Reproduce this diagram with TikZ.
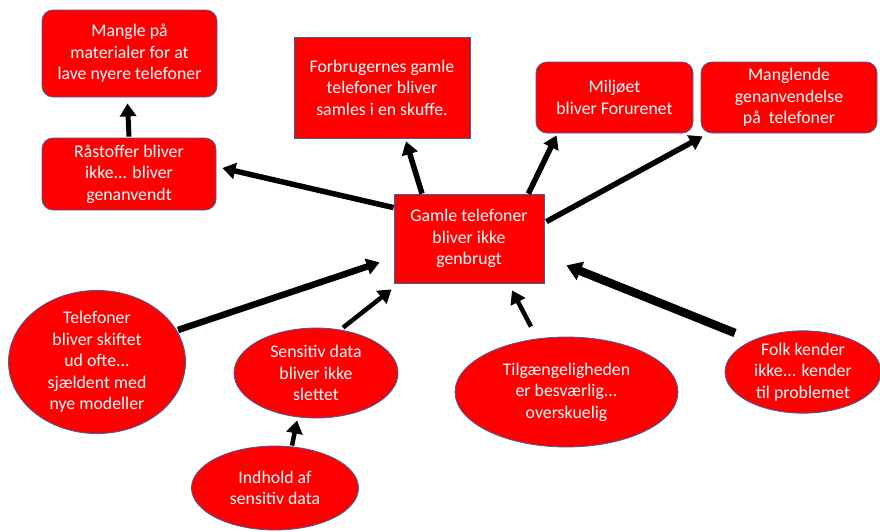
\documentclass[tikz,border=0pt]{standalone}
\usepackage{fontspec}
\setmainfont{Carlito}
\usetikzlibrary{shapes.geometric,arrows.meta}
\definecolor{boxred}{HTML}{FF0000}
\definecolor{edgeblue}{HTML}{41619C}
\tikzset{
  base/.style={fill=boxred,draw=edgeblue,line width=0.8pt,text=white,align=center,
    font=\fontsize{17.8}{21.5}\selectfont,inner sep=0pt},
  rbox/.style={base,rectangle,rounded corners=11pt},
  sbox/.style={base,rectangle},
  ebox/.style={base,ellipse},
  arr/.style={line width=5.5pt,-{Triangle[length=13pt,width=16pt]}},
}
\begin{document}
\begin{tikzpicture}[x=1pt,y=-1pt]
\useasboundingbox (0,0) rectangle (880,531);
\node[rbox,minimum width=175pt,minimum height=87pt] (mangle) at (129.5,53.5) {Mangle på\\materialer for at\\lave nyere telefoner};
\node[rbox,minimum width=174pt,minimum height=72pt] (raa) at (129,174) {Råstoffer bliver\\ikke... bliver\\genanvendt};
\node[sbox,minimum width=176pt,minimum height=101pt] (forb) at (382,87.5) {Forbrugernes gamle\\telefoner bliver\\samles i en skuffe.};
\node[rbox,minimum width=157pt,minimum height=71pt] (milj) at (614.5,97.5) {Miljøet\\bliver Forurenet};
\node[rbox,minimum width=176pt,minimum height=71pt] (mangl) at (789,97.5) {Manglende\\genanvendelse\\på\ \ telefoner};
\node[sbox,minimum width=150pt,minimum height=89pt] (gamle) at (469,238.5) {Gamle telefoner\\bliver ikke\\genbrugt};
\node[ebox,minimum width=177pt,minimum height=126pt] (tele) at (97,362) {Telefoner\\bliver skiftet\\ud ofte...\\sjældent med\\nye modeller};
\node[ebox,minimum width=164pt,minimum height=90pt] (sens) at (316,373) {Sensitiv data\\bliver ikke\\slettet};
\node[ebox,minimum width=167pt,minimum height=84pt] (ind) at (275,488) {Indhold af\\sensitiv data};
\node[ebox,minimum width=223pt,minimum height=110pt] (tilg) at (566.5,392) {Tilgængeligheden\\er besværlig...\\overskuelig};
\node[ebox,minimum width=156pt,minimum height=80pt] (folk) at (803,372) {Folk kender\\ikke... kender\\til problemet};

\draw[arr] ([yshift=-14pt]gamle.north west) -- ([xshift=6pt,yshift=6pt]raa.east);
\draw[arr,line width=5pt] ([yshift=1pt]raa.north) -- ([xshift=-2pt,yshift=-6pt]mangle.south);
\draw[arr] ([xshift=-47pt]gamle.north) -- ([xshift=24pt,yshift=-3pt]forb.south);
\draw[arr] ([xshift=-16pt]gamle.north east) -- ([xshift=21pt,yshift=-2pt]milj.south west);
\draw[arr] ([xshift=2pt,yshift=-28pt]gamle.north east) -- ([xshift=2pt,yshift=-3pt]mangl.south west);
\draw[arr,line width=6.5pt] ([xshift=81pt,yshift=32pt]tele.center) -- ([xshift=-14pt,yshift=21pt]gamle.south west);
\draw[arr,line width=4.5pt] ([xshift=27pt]sens.north) -- ([xshift=-2pt,yshift=-6pt]gamle.south west);
\draw[arr,line width=4.5pt] ([xshift=17pt]ind.north) -- ([xshift=-19pt,yshift=-2pt]sens.south);
\draw[arr,line width=4.5pt] ([xshift=-35.5pt,yshift=10pt]tilg.north) -- ([xshift=43pt,yshift=-7pt]gamle.south);
\draw[arr,line width=8.5pt,-{Triangle[length=15pt,width=19pt]}] ([xshift=-68pt,yshift=39pt]folk.center) -- ([xshift=22pt,yshift=18pt]gamle.south east);
\end{tikzpicture}
\end{document}
